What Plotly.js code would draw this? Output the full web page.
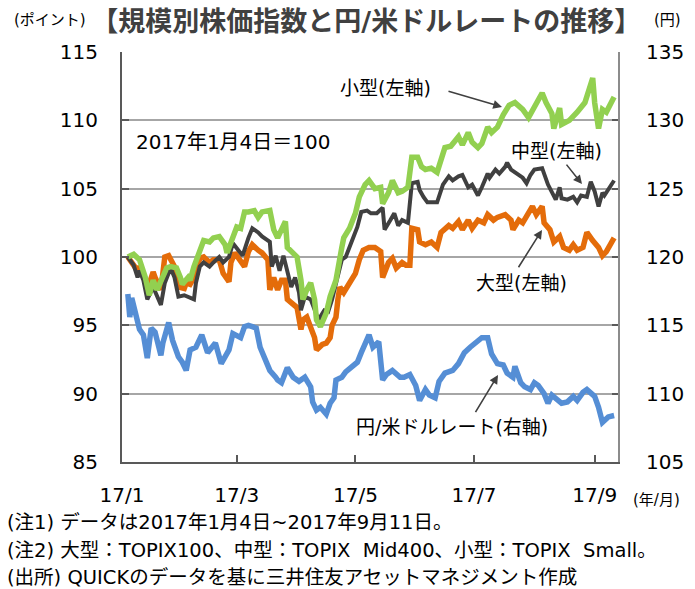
<!DOCTYPE html>
<html><head><meta charset="utf-8">
<script src="https://cdn.plot.ly/plotly-3.0.1.min.js"></script>
<style>html,body{margin:0;padding:0;background:#fff}</style>
</head><body><div id="chart" style="width:695px;height:589px"></div>
<script>
// ---- data ----
const smallDates = ['2017-01-04','2017-01-07','2017-01-10','2017-01-13','2017-01-15','2017-01-17','2017-01-19','2017-01-22','2017-01-24','2017-01-26','2017-01-29','2017-01-31',
'2017-02-01','2017-02-04','2017-02-05','2017-02-07','2017-02-10','2017-02-12','2017-02-15','2017-02-17','2017-02-20','2017-02-23','2017-02-24','2017-02-27',
'2017-03-01','2017-03-03','2017-03-05','2017-03-07','2017-03-10','2017-03-12','2017-03-14','2017-03-18','2017-03-20','2017-03-22','2017-03-24','2017-03-26','2017-03-27','2017-03-30',
'2017-04-01','2017-04-03','2017-04-04','2017-04-06','2017-04-08','2017-04-10','2017-04-11','2017-04-13','2017-04-16','2017-04-18','2017-04-21','2017-04-24','2017-04-25','2017-04-28',
'2017-05-01','2017-05-03','2017-05-06','2017-05-08','2017-05-11','2017-05-14','2017-05-15','2017-05-18','2017-05-20','2017-05-23','2017-05-25','2017-05-28','2017-05-30',
'2017-06-02','2017-06-04','2017-06-06','2017-06-09','2017-06-12','2017-06-14','2017-06-16','2017-06-19','2017-06-21','2017-06-23','2017-06-25','2017-06-28','2017-06-30',
'2017-07-03','2017-07-05','2017-07-08','2017-07-10','2017-07-13','2017-07-16','2017-07-19','2017-07-22','2017-07-26','2017-07-29',
'2017-08-01','2017-08-05','2017-08-07','2017-08-10','2017-08-11','2017-08-14','2017-08-15','2017-08-19','2017-08-23','2017-08-27','2017-08-31',
'2017-09-01','2017-09-03','2017-09-05','2017-09-07','2017-09-11'];
const smallValues = [100.0,100.2,99.8,98.5,97.2,98.3,97.6,98.5,99.2,99.3,99.2,98.5,
98.0,98.5,98.3,99.3,100.4,101.2,101.1,101.4,101.5,100.9,100.3,101.4,
102.2,102.1,103.3,103.3,103.4,102.9,103.3,103.4,102.0,101.4,102.0,102.6,100.7,100.3,
100.0,98.3,96.9,97.6,98.1,96.9,95.4,94.9,95.9,97.1,98.3,100.7,101.4,102.1,
103.2,104.4,105.3,105.6,105.0,105.1,103.9,104.7,105.6,104.7,104.8,105.1,107.3,
107.3,106.6,106.4,106.5,106.2,107.1,108.0,108.1,108.4,108.8,108.2,109.1,108.4,
108.0,108.3,109.5,109.1,109.5,110.4,111.1,111.3,110.8,110.2,
111.0,112.0,111.3,110.5,109.4,110.9,109.7,110.0,110.6,111.3,113.1,
111.3,109.4,110.8,110.6,111.7];

const midDates = ['2017-01-04','2017-01-05','2017-01-07','2017-01-09','2017-01-10','2017-01-12','2017-01-14','2017-01-17','2017-01-19','2017-01-21','2017-01-23','2017-01-26','2017-01-28','2017-01-30',
'2017-02-02','2017-02-04','2017-02-07','2017-02-08','2017-02-10','2017-02-12','2017-02-15','2017-02-17','2017-02-20','2017-02-22','2017-02-25','2017-02-27',
'2017-03-02','2017-03-04','2017-03-07','2017-03-09','2017-03-12','2017-03-14','2017-03-18','2017-03-19','2017-03-21','2017-03-23','2017-03-25','2017-03-27','2017-03-29','2017-03-31',
'2017-04-02','2017-04-03','2017-04-05','2017-04-08','2017-04-11','2017-04-12','2017-04-15','2017-04-17','2017-04-19','2017-04-21','2017-04-24','2017-04-26','2017-04-29',
'2017-05-02','2017-05-04','2017-05-07','2017-05-09','2017-05-12','2017-05-15','2017-05-16','2017-05-19','2017-05-21','2017-05-23','2017-05-25','2017-05-28','2017-05-30',
'2017-06-02','2017-06-03','2017-06-05','2017-06-07','2017-06-10','2017-06-12','2017-06-15','2017-06-18','2017-06-20','2017-06-23','2017-06-25','2017-06-28','2017-06-30',
'2017-07-03','2017-07-05','2017-07-08','2017-07-09','2017-07-12','2017-07-14','2017-07-17','2017-07-18','2017-07-20','2017-07-23','2017-07-26','2017-07-28','2017-07-30',
'2017-08-01','2017-08-05','2017-08-08','2017-08-10','2017-08-12','2017-08-14','2017-08-15','2017-08-18','2017-08-21','2017-08-23','2017-08-25','2017-08-28','2017-08-30',
'2017-09-01','2017-09-03','2017-09-05','2017-09-06','2017-09-11'];
const midValues = [100.0,99.8,99.4,98.5,99.0,98.3,96.9,97.8,97.2,96.5,98.1,99.2,98.5,97.1,
97.2,97.1,96.9,98.1,99.3,99.6,99.3,99.6,100.0,99.6,100.0,101.0,
100.5,100.1,101.4,102.1,101.8,101.5,101.1,99.3,100.1,99.0,100.1,98.8,97.8,98.5,
97.4,96.1,97.1,96.9,95.9,95.4,96.1,96.0,96.9,98.1,99.8,100.0,101.1,
102.2,103.3,103.4,103.2,103.2,103.6,102.0,102.7,103.2,102.3,102.7,102.5,105.4,
105.5,104.9,104.4,104.0,104.0,104.0,105.3,105.9,105.6,105.9,106.0,105.1,105.3,
104.5,105.1,106.1,105.8,106.4,106.1,106.6,106.9,106.4,106.1,105.8,105.4,106.0,
106.4,106.5,105.3,104.7,104.2,105.1,104.3,104.2,104.4,104.0,104.5,104.4,105.5,
104.8,103.7,104.7,104.5,105.6];

const largeDates = ['2017-01-04','2017-01-06','2017-01-08','2017-01-10','2017-01-12','2017-01-14','2017-01-17','2017-01-18','2017-01-21','2017-01-23','2017-01-25','2017-01-28','2017-01-30',
'2017-02-02','2017-02-03','2017-02-05','2017-02-07','2017-02-10','2017-02-12','2017-02-15','2017-02-17','2017-02-20','2017-02-22','2017-02-25','2017-02-26','2017-02-28',
'2017-03-03','2017-03-05','2017-03-07','2017-03-09','2017-03-12','2017-03-14','2017-03-17','2017-03-18','2017-03-20','2017-03-22','2017-03-24','2017-03-26','2017-03-27','2017-03-30',
'2017-04-01','2017-04-03','2017-04-04','2017-04-06','2017-04-08','2017-04-10','2017-04-11','2017-04-14','2017-04-16','2017-04-18','2017-04-19','2017-04-21','2017-04-22','2017-04-23','2017-04-25','2017-04-28',
'2017-05-01','2017-05-03','2017-05-05','2017-05-08','2017-05-11','2017-05-14','2017-05-15','2017-05-18','2017-05-20','2017-05-22','2017-05-25','2017-05-27','2017-05-29','2017-05-30',
'2017-06-02','2017-06-03','2017-06-06','2017-06-09','2017-06-12','2017-06-14','2017-06-18','2017-06-20','2017-06-23','2017-06-25','2017-06-28','2017-06-30',
'2017-07-03','2017-07-06','2017-07-08','2017-07-11','2017-07-13','2017-07-17','2017-07-20','2017-07-21','2017-07-24','2017-07-26','2017-07-29','2017-07-31',
'2017-08-02','2017-08-05','2017-08-06','2017-08-09','2017-08-11','2017-08-14','2017-08-16','2017-08-19','2017-08-21','2017-08-23','2017-08-26','2017-08-28','2017-08-31',
'2017-09-03','2017-09-05','2017-09-07','2017-09-11'];
const largeValues = [100.0,99.6,99.2,99.2,98.7,97.6,98.9,98.5,97.6,100.0,100.1,99.3,97.8,
97.7,98.1,98.0,98.5,99.9,100.0,99.6,99.8,99.8,98.8,98.2,99.6,100.3,
99.6,99.3,100.4,100.9,100.5,100.3,99.8,97.6,98.5,97.6,98.3,98.3,96.9,96.6,
96.3,94.7,95.4,95.6,94.9,94.1,93.2,93.6,93.7,94.1,95.0,95.6,96.9,97.8,97.4,98.1,
98.8,99.8,100.5,100.7,100.7,100.4,98.5,99.6,99.9,99.2,99.6,99.4,99.4,102.1,
102.0,101.1,100.9,101.1,100.7,101.8,102.3,102.1,102.6,102.0,102.7,102.1,
102.7,102.5,103.1,102.7,102.9,103.1,102.7,102.0,102.7,102.5,103.3,103.7,
103.1,103.7,102.5,102.0,101.1,101.5,100.7,100.5,100.9,100.5,100.7,101.8,101.2,
100.7,100.1,100.4,101.4];

const yenDates = ['2017-01-04','2017-01-05','2017-01-06','2017-01-08','2017-01-10','2017-01-12','2017-01-14','2017-01-16','2017-01-18','2017-01-21','2017-01-22','2017-01-25','2017-01-27','2017-01-30',
'2017-02-01','2017-02-03','2017-02-05','2017-02-08','2017-02-11','2017-02-14','2017-02-16','2017-02-18','2017-02-21','2017-02-23','2017-02-25','2017-02-27',
'2017-03-03','2017-03-05','2017-03-07','2017-03-09','2017-03-11','2017-03-13','2017-03-16','2017-03-18','2017-03-21','2017-03-22','2017-03-24','2017-03-26','2017-03-27','2017-03-30',
'2017-04-02','2017-04-05','2017-04-08','2017-04-09','2017-04-11','2017-04-13','2017-04-16','2017-04-18','2017-04-20','2017-04-21','2017-04-24','2017-04-26','2017-04-29',
'2017-05-02','2017-05-04','2017-05-06','2017-05-08','2017-05-10','2017-05-13','2017-05-15','2017-05-17','2017-05-20','2017-05-24','2017-05-26','2017-05-29',
'2017-06-01','2017-06-03','2017-06-06','2017-06-08','2017-06-11','2017-06-13','2017-06-16','2017-06-20','2017-06-23','2017-06-26','2017-06-29',
'2017-07-03','2017-07-05','2017-07-08','2017-07-10','2017-07-13','2017-07-16','2017-07-18','2017-07-21','2017-07-22','2017-07-25','2017-07-27','2017-07-30',
'2017-08-01','2017-08-03','2017-08-06','2017-08-08','2017-08-10','2017-08-13','2017-08-15','2017-08-18','2017-08-21','2017-08-23','2017-08-26','2017-08-28','2017-08-30',
'2017-09-01','2017-09-03','2017-09-05','2017-09-08','2017-09-11'];
const yenValues = [117.3,115.6,117.0,115.9,114.7,114.3,112.6,114.8,114.5,112.8,113.7,115.2,113.9,112.7,
112.3,111.7,113.2,113.4,114.3,113.0,113.3,113.7,112.2,112.7,113.2,114.4,
114.1,114.9,115.0,114.9,114.8,113.4,112.5,111.7,111.2,111.0,110.8,111.4,111.9,111.2,
110.9,111.2,110.5,109.4,108.8,109.0,108.5,109.3,109.7,111.0,111.2,111.6,111.9,
112.3,113.0,113.7,114.3,113.4,113.8,111.0,111.4,111.7,111.2,111.2,111.4,
110.6,109.5,110.3,109.9,109.7,110.9,111.5,111.7,112.2,113.0,113.4,
113.8,114.1,114.1,112.9,112.2,112.1,111.5,111.2,112.0,110.8,110.5,110.3,
110.8,110.6,110.0,109.3,109.9,109.5,109.3,109.4,109.8,109.5,110.1,110.3,110.0,
109.8,109.0,107.9,108.3,108.4];

const tickDates = ['2017-01-01','2017-03-01','2017-05-01','2017-07-01','2017-09-01'];
const tickLabels = ['17/1','17/3','17/5','17/7','17/9'];

// ---- layout helpers ----
const L=122, R=618, T=52, B=462;
const px = x => (x-L)/(R-L);
const py = y => (B-y)/(B-T);
const FONT = '"DejaVu Sans", "Noto Sans CJK JP", sans-serif';
const ARROW = '#404040';

const traces = [
  {x: yenDates, y: yenValues, yaxis:'y2', type:'scatter', mode:'lines', line:{color:'#558ed5', width:5.5}, hoverinfo:'skip'},
  {x: largeDates, y: largeValues, type:'scatter', mode:'lines', line:{color:'#e46c0a', width:5.5}, hoverinfo:'skip'},
  {x: midDates, y: midValues, type:'scatter', mode:'lines', line:{color:'#404040', width:4}, hoverinfo:'skip'},
  {x: smallDates, y: smallValues, type:'scatter', mode:'lines', line:{color:'#92d050', width:5.5}, hoverinfo:'skip'}
];

function txt(t, x, y, size, opts){
  return Object.assign({text:t, xref:'paper', yref:'paper', x:px(x), y:py(y), showarrow:false,
    xanchor:'center', yanchor:'middle', font:{family:FONT, size:size, color:'#000'}}, opts||{});
}
function arrow(tx, ty, fx, fy){
  return {text:' ', xref:'paper', yref:'paper', x:px(tx), y:py(ty), ax:fx-tx, ay:fy-ty,
    showarrow:true, arrowhead:2, arrowsize:1.1, arrowwidth:1.6, arrowcolor:ARROW, font:{size:1}, borderpad:0};
}

const layout = {
  width:695, height:589,
  margin:{l:L, r:695-R, t:T, b:589-B, pad:0},
  paper_bgcolor:'#fff', plot_bgcolor:'#fff',
  showlegend:false,
  title:{text:'【規模別株価指数と円/米ドルレートの推移】', x:0.527, xanchor:'center', y:1-22/589, yanchor:'middle', yref:'container',
    font:{family:FONT, size:27, color:'#404040', weight:'bold'}},
  xaxis:{type:'date', range:['2017-01-01','2017-09-13'], tickvals:tickDates, ticktext:tickLabels,
    ticks:'inside', ticklen:7, tickwidth:2, tickcolor:'#595959',
    showline:true, linecolor:'#595959', linewidth:2, showgrid:false, zeroline:false,
    tickfont:{family:FONT, size:20, color:'#000'}, ticklabelstandoff:14},
  yaxis:{range:[85,115], tick0:85, dtick:5, ticks:'inside', ticklen:7, tickwidth:2, tickcolor:'#595959',
    showline:true, linecolor:'#595959', linewidth:2, showgrid:true, gridcolor:'#a6a6a6', gridwidth:2, zeroline:false,
    tickfont:{family:FONT, size:20, color:'#000'}, ticklabelstandoff:18},
  yaxis2:{range:[105,135], tick0:105, dtick:5, overlaying:'y', side:'right', ticks:'inside', ticklen:6, tickwidth:2, tickcolor:'#595959',
    showline:true, linecolor:'#8c8c8c', linewidth:2, showgrid:false, zeroline:false,
    tickfont:{family:FONT, size:20, color:'#000'}, ticklabelstandoff:22},
  annotations:[
    txt('(ポイント)', 50, 20, 15),
    txt('(円)', 667, 20, 15),
    txt('2017年1月4日＝100', 233, 142, 20),
    txt('小型(左軸)', 385, 88, 19),
    txt('中型(左軸)', 556, 151, 19),
    txt('大型(左軸)', 521, 283, 19),
    txt('円/米ドルレート(右軸)', 452, 427, 19),
    txt('(年/月)', 656, 500, 15),
    txt('(注1) データは2017年1月4日~2017年9月11日。', 5, 522, 19.5, {xanchor:'left'}),
    txt('(注2) 大型：TOPIX100、中型：TOPIX  Mid400、小型：TOPIX  Small。', 5, 550, 19.5, {xanchor:'left'}),
    txt('(出所) QUICKのデータを基に三井住友アセットマネジメント作成', 5, 577, 19.5, {xanchor:'left'}),
    arrow(502,107,448,91),
    arrow(582,184,566,164),
    arrow(542,230,518,268),
    arrow(498,375,475,413)
  ]
};

Plotly.newPlot('chart', traces, layout, {staticPlot:true, displayModeBar:false});
</script>
</body></html>
